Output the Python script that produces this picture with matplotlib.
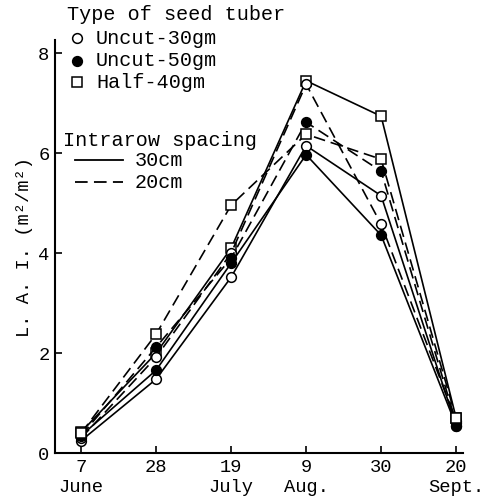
import matplotlib
matplotlib.use("Agg")
import matplotlib.pyplot as plt

plt.rcParams["font.family"] = ["Liberation Mono", "DejaVu Sans Mono"]

# 조사 날짜 (21일 간격)
dates = ["7\nJune", "28", "19\nJuly", "9\nAug.", "30", "20\nSept."]
x = list(range(len(dates)))

# 종서 종류별, 재식 거리별 L.A.I.
uncut30_30cm = [0.25, 1.48, 3.52, 6.15, 5.15, 0.55]
uncut30_20cm = [0.30, 1.92, 4.00, 7.38, 4.58, 0.65]
uncut50_30cm = [0.35, 1.66, 3.80, 5.97, 4.36, 0.55]
uncut50_20cm = [0.35, 2.12, 3.90, 6.62, 5.64, 0.60]
half40_30cm = [0.42, 2.00, 4.10, 7.45, 6.74, 0.70]
half40_20cm = [0.40, 2.38, 4.96, 6.38, 5.88, 0.70]

DASH = (0, (7, 3.5))

fig = plt.figure(figsize=(4.87, 5.03), dpi=100)
ax = fig.add_axes([0.113, 0.099, 0.838, 0.821])

def draw(y, marker, filled, ls):
    ax.plot(x, y, color="black", linestyle=ls, linewidth=1.2,
            marker=marker, markersize=7 if marker == "o" else 6.5,
            markerfacecolor="black" if filled else "white",
            markeredgecolor="black", markeredgewidth=1.1)

draw(uncut30_30cm, "o", False, "-")
draw(uncut50_30cm, "o", True, "-")
draw(half40_30cm, "s", False, "-")
draw(uncut30_20cm, "o", False, DASH)
draw(uncut50_20cm, "o", True, DASH)
draw(half40_20cm, "s", False, DASH)

ax.set_xlim(-0.347, 5.093)
ax.set_ylim(0, 8.26)
ax.set_xticks(x)
ax.set_xticklabels(dates, fontsize=13.5, linespacing=1.25)
ax.set_yticks([0, 2, 4, 6, 8])
ax.tick_params(direction="in", length=5, width=1.2, pad=4, labelsize=13.5)
for s in ["top", "right"]:
    ax.spines[s].set_visible(False)
for s in ["left", "bottom"]:
    ax.spines[s].set_linewidth(1.5)

ax.set_ylabel("L. A. I. (m\u00b2/m\u00b2)", fontsize=13.5, labelpad=4)

# 범례 (직접 작성)
fs = 14.5
fig.text(67 / 487, 1 - 15 / 503, "Type of seed tuber", fontsize=fs, va="center")
rows = [("Uncut-30gm", "o", "white", 38), ("Uncut-50gm", "o", "black", 61),
        ("Half-40gm", "s", "white", 82)]
for label, m, fc, yy in rows:
    fig.lines.append(plt.Line2D([77 / 487], [1 - yy / 503], marker=m, markersize=7,
                                markerfacecolor=fc, markeredgecolor="black",
                                markeredgewidth=1.1, transform=fig.transFigure))
    fig.text(96 / 487, 1 - yy / 503, label, fontsize=fs, va="center")

fig.text(63 / 487, 1 - 140 / 503, "Intrarow spacing", fontsize=fs, va="center")
for label, ls, yy in [("30cm", "-", 160), ("20cm", DASH, 182)]:
    fig.lines.append(plt.Line2D([75 / 487, 123 / 487], [1 - yy / 503, 1 - yy / 503],
                                color="black", linestyle=ls, linewidth=1.3,
                                transform=fig.transFigure))
    fig.text(135 / 487, 1 - yy / 503, label, fontsize=fs, va="center")

fig.savefig("out.png", dpi=100)
